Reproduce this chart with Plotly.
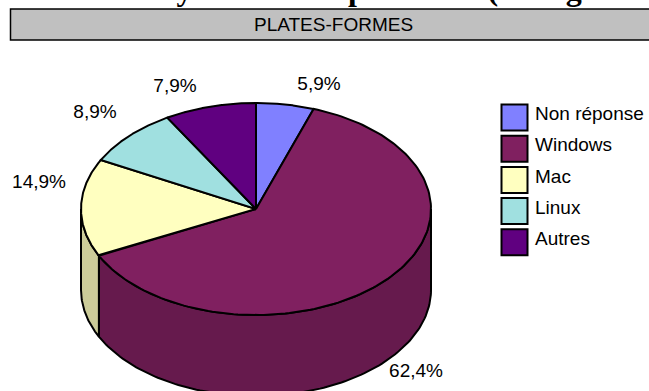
import numpy as np
import plotly.graph_objects as go

categories = ["Non réponse", "Windows", "Mac", "Linux", "Autres"]
values = [5.9, 62.4, 14.9, 8.9, 7.9]
labels = ["5,9%", "62,4%", "14,9%", "8,9%", "7,9%"]
top_colors = ["#8080FF", "#802060", "#FFFFC0", "#A0E0E0", "#600080"]
side_colors = ["#6666CC", "#661A4D", "#CCCC99", "#80B3B3", "#4D0066"]

W, H = 649, 391
CX, CY, RX, RY, DEPTH = 256, 209, 175, 106, 81
FONT = "Liberation Sans"
PERSPECTIVE_SHIFT = 0.0056  # the reference's 3-D view shifts inner slice edges slightly

def pt(frac, dy=0):
    t = np.asarray(frac) * 2 * np.pi
    return CX + RX * np.sin(t), CY + dy - RY * np.cos(t)

total = sum(values)
edges = np.concatenate([[0], np.cumsum(values) / total])
edges[1:-1] -= PERSPECTIVE_SHIFT
fig = go.Figure()
line = dict(color="black", width=2)

# depth walls (only the front half, frac 0.25..0.75, is visible)
for i in range(len(values)):
    a, b = max(edges[i], 0.25), min(edges[i + 1], 0.75)
    if a >= b:
        continue
    f = np.linspace(a, b, 120)
    x1, y1 = pt(f)
    x2, y2 = pt(f[::-1], DEPTH)
    fig.add_trace(go.Scatter(x=np.r_[x1, x2, x1[0]], y=np.r_[y1, y2, y1[0]], mode="lines",
                             fill="toself", fillcolor=side_colors[i], line=line, hoverinfo="skip"))

# top slices
for i in range(len(values)):
    f = np.linspace(edges[i], edges[i + 1], 160)
    x, y = pt(f)
    fig.add_trace(go.Scatter(x=np.r_[CX, x, CX], y=np.r_[CY, y, CY], mode="lines",
                             fill="toself", fillcolor=top_colors[i], line=line,
                             name=categories[i], hoverinfo="skip"))

# data labels
label_x = [319, 416, 39, 95, 175]
label_y = [85, 372, 183, 113, 87]
fig.add_trace(go.Scatter(x=label_x, y=label_y, mode="text", text=labels, textposition="middle center",
                         textfont=dict(family=FONT, size=19, color="black"), hoverinfo="skip"))

# legend
leg_y = [117.5 + 31.2 * i for i in range(len(categories))]
fig.add_trace(go.Scatter(x=[514.5] * 5, y=leg_y, mode="markers",
                         marker=dict(symbol="square", size=26, color=top_colors, line=dict(color="black", width=2)),
                         hoverinfo="skip"))
fig.add_trace(go.Scatter(x=[535] * 5, y=[v - 2 for v in leg_y], mode="text", text=categories,
                         textposition="middle right",
                         textfont=dict(family=FONT, size=19, color="black"), hoverinfo="skip"))

fig.update_layout(
    width=W, height=H, autosize=False, showlegend=False,
    margin=dict(l=0, r=0, t=0, b=0), paper_bgcolor="white", plot_bgcolor="white",
    xaxis=dict(range=[0, W], visible=False, fixedrange=True),
    yaxis=dict(range=[H, 0], visible=False, fixedrange=True),
    shapes=[dict(type="rect", xref="x", yref="y", x0=10.5, x1=665, y0=9, y1=40,
                 fillcolor="#C0C0C0", line=dict(color="black", width=1.5), layer="below")],
    annotations=[
        dict(x=333, y=24, xref="x", yref="y", text="PLATES-FORMES", showarrow=False,
             font=dict(family=FONT, size=19, color="black")),
        dict(x=-14 / W, y=1 + 11.5 / H, xref="paper", yref="paper", xanchor="left", yanchor="middle", showarrow=False,
             text="<b>Maîtrise des systèmes d'exploitation (enseignants)</b>",
             font=dict(family="Liberation Serif", size=32, color="black")),
    ],
)
fig.write_html("out.html", config=dict(displayModeBar=False),
               post_script="document.body.style.margin='0';document.body.style.overflow='hidden';")
